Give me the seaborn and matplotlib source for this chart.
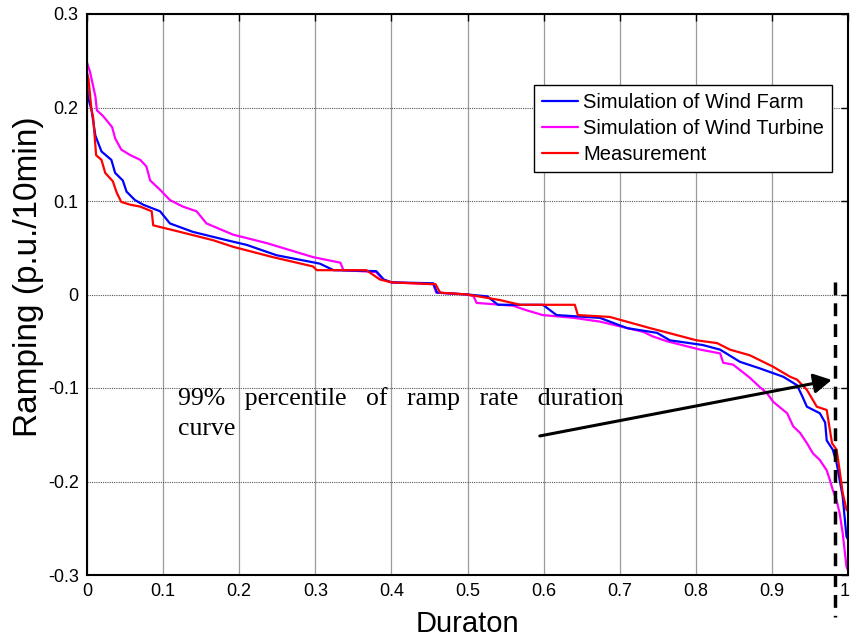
import matplotlib
matplotlib.use("Agg")
import matplotlib.pyplot as plt
import matplotlib.transforms as mtrans
import seaborn as sns
import pandas as pd

# ---------------- data ----------------
turbine_x = [0.000, 0.004, 0.011, 0.013, 0.021, 0.033, 0.037, 0.045, 0.057, 0.070, 0.078, 0.083,
             0.096, 0.109, 0.126, 0.144, 0.157, 0.192, 0.236, 0.297, 0.333, 0.337, 0.380, 0.389,
             0.400, 0.455, 0.459, 0.500, 0.508, 0.512, 0.560, 0.578, 0.599, 0.640, 0.674, 0.700,
             0.731, 0.744, 0.762, 0.806, 0.832, 0.836, 0.849, 0.871, 0.884, 0.893, 0.902, 0.920,
             0.928, 0.937, 0.946, 0.954, 0.963, 0.972, 0.976, 0.980, 0.985, 0.989, 0.993, 0.998, 1.000]
turbine_y = [0.248, 0.238, 0.212, 0.197, 0.191, 0.179, 0.167, 0.155, 0.149, 0.144, 0.137, 0.122,
             0.112, 0.101, 0.094, 0.089, 0.076, 0.064, 0.055, 0.040, 0.034, 0.026, 0.024, 0.016,
             0.013, 0.011, 0.002, 0.000, -0.002, -0.009, -0.012, -0.017, -0.022, -0.025, -0.029, -0.034,
             -0.040, -0.045, -0.050, -0.059, -0.063, -0.073, -0.075, -0.089, -0.099, -0.105, -0.115, -0.127,
             -0.141, -0.148, -0.159, -0.170, -0.177, -0.188, -0.198, -0.209, -0.220, -0.234, -0.255, -0.291, -0.295]

farm_x = [0.000, 0.001, 0.006, 0.011, 0.019, 0.032, 0.037, 0.047, 0.052, 0.063, 0.074, 0.096,
          0.109, 0.139, 0.184, 0.210, 0.249, 0.306, 0.324, 0.380, 0.390, 0.400, 0.455, 0.460,
          0.500, 0.526, 0.540, 0.599, 0.617, 0.674, 0.700, 0.710, 0.749, 0.766, 0.809, 0.832,
          0.858, 0.884, 0.915, 0.933, 0.940, 0.946, 0.963, 0.970, 0.972, 0.980, 0.985, 0.989,
          0.993, 0.998, 1.000]
farm_y = [0.237, 0.212, 0.197, 0.170, 0.153, 0.144, 0.130, 0.122, 0.110, 0.101, 0.096, 0.089,
          0.076, 0.067, 0.058, 0.053, 0.042, 0.033, 0.026, 0.025, 0.016, 0.013, 0.012, 0.002,
          0.000, -0.002, -0.011, -0.011, -0.022, -0.025, -0.033, -0.036, -0.041, -0.049, -0.054, -0.059,
          -0.072, -0.079, -0.088, -0.097, -0.109, -0.120, -0.127, -0.137, -0.156, -0.166, -0.180, -0.198,
          -0.216, -0.259, -0.262]

meas_x = [0.000, 0.002, 0.006, 0.008, 0.012, 0.019, 0.024, 0.034, 0.039, 0.045, 0.057, 0.070,
          0.085, 0.087, 0.122, 0.166, 0.192, 0.244, 0.297, 0.302, 0.367, 0.385, 0.400, 0.458,
          0.464, 0.500, 0.543, 0.569, 0.641, 0.645, 0.687, 0.718, 0.740, 0.766, 0.801, 0.828,
          0.845, 0.871, 0.901, 0.924, 0.933, 0.946, 0.959, 0.972, 0.979, 0.985, 0.989, 0.993,
          0.998, 1.000]
meas_y = [0.237, 0.230, 0.197, 0.190, 0.149, 0.144, 0.130, 0.121, 0.109, 0.099, 0.096, 0.094,
          0.089, 0.074, 0.067, 0.058, 0.051, 0.040, 0.030, 0.026, 0.026, 0.016, 0.013, 0.011,
          0.002, 0.000, -0.006, -0.011, -0.011, -0.022, -0.024, -0.031, -0.036, -0.0415, -0.049, -0.052,
          -0.059, -0.065, -0.077, -0.088, -0.091, -0.102, -0.120, -0.1235, -0.159, -0.166, -0.188, -0.212,
          -0.230, -0.232]

series_labels = ["Simulation of Wind Farm", "Simulation of Wind Turbine", "Measurement"]
series_colors = ["#0000ff", "#ff00ff", "#ff0000"]

x_ticks = [0, 0.1, 0.2, 0.3, 0.4, 0.5, 0.6, 0.7, 0.8, 0.9, 1.0]
x_ticklabels = ["0", "0.1", "0.2", "0.3", "0.4", "0.5", "0.6", "0.7", "0.8", "0.9", "1"]
y_ticks = [-0.3, -0.2, -0.1, 0, 0.1, 0.2, 0.3]
y_ticklabels = ["-0.3", "-0.2", "-0.1", "0", "0.1", "0.2", "0.3"]

percentile_x = 0.983
arrow_tail = (0.595, -0.1513)
arrow_head = (0.9786, -0.0914)

# ---------------- style ----------------
sns.set_theme(style="white")
plt.rcParams["font.family"] = ["Liberation Sans", "DejaVu Sans"]

fig = plt.figure(figsize=(8.51, 6.39), dpi=100)
ax = fig.add_axes([87 / 851, 1 - 575 / 639, (848 - 87) / 851, (575 - 14) / 639])

df_t = pd.DataFrame({"x": turbine_x, "y": turbine_y})
df_f = pd.DataFrame({"x": farm_x, "y": farm_y})
df_m = pd.DataFrame({"x": meas_x, "y": meas_y})

lw = 1.6
sns.lineplot(data=df_t, x="x", y="y", ax=ax, color=series_colors[1], lw=lw,
             estimator=None, sort=False, label=series_labels[1])
sns.lineplot(data=df_f, x="x", y="y", ax=ax, color=series_colors[0], lw=lw,
             estimator=None, sort=False, label=series_labels[0])
sns.lineplot(data=df_m, x="x", y="y", ax=ax, color=series_colors[2], lw=lw,
             estimator=None, sort=False, label=series_labels[2])

ax.set_xlim(0, 1)
ax.set_ylim(-0.3, 0.3)
ax.set_xticks(x_ticks)
ax.set_xticklabels(x_ticklabels)
ax.set_yticks(y_ticks)
ax.set_yticklabels(y_ticklabels)
ax.tick_params(axis="both", which="both", direction="in", length=5, width=1,
               top=True, right=True, labelsize=13, colors="black", pad=6)
for lab in ax.get_xticklabels() + ax.get_yticklabels():
    lab.set_color("black")
# keep the last x tick label ("1") inside the picture
last = ax.get_xticklabels()[-1]
last.set_transform(last.get_transform() + mtrans.ScaledTranslation(-3 / 100, 0, fig.dpi_scale_trans))

ax.xaxis.grid(True, color="#9a9a9a", lw=0.9, ls="-")
ax.yaxis.grid(True, color="#555555", lw=0.8, ls=(0, (1, 1)))
ax.set_axisbelow(True)
for sp in ax.spines.values():
    sp.set_visible(True)
    sp.set_color("black")
    sp.set_linewidth(1.5)

ax.set_xlabel("Duraton", fontsize=21, color="black")
ax.set_ylabel("Ramping (p.u./10min)", fontsize=24, color="black")
ax.xaxis.set_label_coords(0.5, -0.062)
ax.yaxis.set_label_coords(-0.0565, 0.531)

# legend (order: farm, turbine, measurement)
handles, labels = ax.get_legend_handles_labels()
order = [labels.index(l) for l in series_labels]
leg = ax.legend([handles[i] for i in order], [labels[i] for i in order],
                loc="upper right", bbox_to_anchor=((832 - 87) / 761, (575 - 85) / 561),
                borderaxespad=0, fontsize=14.5, frameon=True, fancybox=False,
                framealpha=1, edgecolor="black", handlelength=1.8, handletextpad=0.25,
                borderpad=0.4, labelspacing=0.35)
leg.get_frame().set_linewidth(1.0)
for t in leg.get_texts():
    t.set_color("black")

# annotation text
ax.text(0.1196, -0.118, "99%   percentile   of   ramp   rate   duration",
        fontsize=18.5, family=["Liberation Serif", "DejaVu Serif"], va="baseline", ha="left",
        color="black")
ax.text(0.1196, -0.150, "curve", fontsize=18.5, family=["Liberation Serif", "DejaVu Serif"],
        va="baseline", ha="left", color="black")

ax.annotate("", xy=arrow_head, xytext=arrow_tail,
            arrowprops=dict(arrowstyle="-|>,head_length=0.4,head_width=0.22", lw=2.2,
                            color="black", mutation_scale=27, shrinkA=0, shrinkB=0))

# 99% percentile dashed line
ax.plot([percentile_x, percentile_x], [0.013, -0.345], color="black", lw=2.5,
        dashes=(3.7, 2.3), clip_on=False, zorder=5)

fig.savefig("out.png", dpi=100, facecolor="white")
